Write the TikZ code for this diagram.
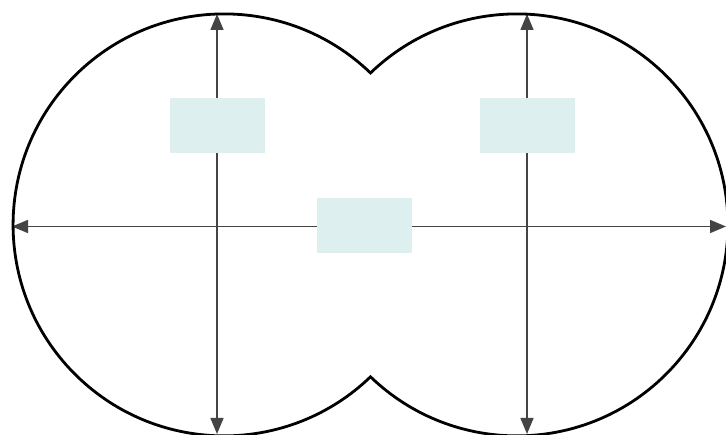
\documentclass[tikz,border=0pt]{standalone}
\usetikzlibrary{arrows.meta}
\definecolor{boxfill}{HTML}{DDEFEF}
\definecolor{axisgray}{HTML}{444444}
\tikzset{
  axis/.style={{Triangle[length=16pt,width=13pt]}-{Triangle[length=16pt,width=13pt]},line width=1.5pt,axisgray},
  blank/.style={fill=boxfill,minimum width=95pt,minimum height=55pt,inner sep=0pt}
}
\begin{document}
\begin{tikzpicture}[x=1pt,y=1pt]
    \useasboundingbox (0,0) rectangle (726,435);

    % axis end points
    \coordinate (west) at (12,208.5);
    \coordinate (east) at (726,208.5);
    \coordinate (ltop) at (217,421);
    \coordinate (lbot) at (217,1);
    \coordinate (rtop) at (527,421);
    \coordinate (rbot) at (527,1);

    % axes
    \draw[axis] (west) -- (east);
    \draw[axis] (ltop) -- (lbot);
    \draw[axis] (rtop) -- (rbot);

    % outline of the two lobes
    \coordinate (cusp) at (370.5,362);
    \draw[line width=2.8pt,black] (cusp)
        arc[start angle=46.05,end angle=313.95,radius=211]
        arc[start angle=226.05,end angle=493.95,radius=211] -- cycle;

    % empty boxes
    \node[blank] (lbox) at (217.5,309.5) {};
    \node[blank] (rbox) at (527.5,309.5) {};
    \node[blank] (mbox) at (364,209) {};
\end{tikzpicture}
\end{document}
